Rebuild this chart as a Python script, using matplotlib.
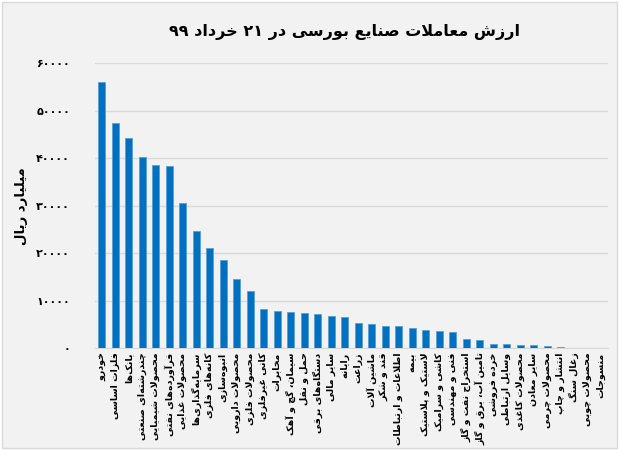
import matplotlib
matplotlib.use("Agg")
import matplotlib.pyplot as plt
from matplotlib.patches import Rectangle

# industries, ordered as in the chart
categories = [
    "خودرو", "فلزات اساسی", "بانک‌ها", "چندرشته‌ای صنعتی", "محصولات شیمیایی",
    "فرآورده‌های نفتی", "محصولات غذایی", "سرمایه‌گذاری‌ها", "کانه‌های فلزی",
    "انبوه‌سازی", "محصولات دارویی", "محصولات فلزی", "کانی غیرفلزی", "مخابرات",
    "سیمان، گچ و آهک", "حمل و نقل", "دستگاه‌های برقی", "سایر مالی", "رایانه",
    "زراعت", "ماشین آلات", "قند و شکر", "اطلاعات و ارتباطات", "بیمه",
    "لاستیک و پلاستیک", "کاشی و سرامیک", "فنی و مهندسی", "استخراج نفت و گاز",
    "تامین آب، برق و گاز", "خرده فروشی", "وسایل ارتباطی", "محصولات کاغذی",
    "سایر معادن", "محصولات چرمی", "انتشار و چاپ", "زغال سنگ", "محصولات چوبی",
    "منسوجات",
]
# trade value, billion rials
values = [
    56000, 47400, 44200, 40200, 38700, 38300, 30700, 24700, 21100, 18700,
    14600, 12100, 8200, 7900, 7650, 7500, 7300, 6870, 6530, 5400,
    5050, 4770, 4700, 4210, 3790, 3700, 3370, 1890, 1750, 900,
    840, 700, 700, 550, 200, 150, 100, 50,
]
yticks = [0, 10000, 20000, 30000, 40000, 50000, 60000]
title = "ارزش معاملات صنایع بورسی در ۲۱ خرداد ۹۹"
ylabel = "میلیارد ریال"

# --- tiny arabic/persian shaper (matplotlib has no text shaping) ---
DUAL = {
    "ب": (0xFE8F, 0xFE90, 0xFE91, 0xFE92), "پ": (0xFB56, 0xFB57, 0xFB58, 0xFB59),
    "ت": (0xFE95, 0xFE96, 0xFE97, 0xFE98), "ث": (0xFE99, 0xFE9A, 0xFE9B, 0xFE9C),
    "ج": (0xFE9D, 0xFE9E, 0xFE9F, 0xFEA0), "چ": (0xFB7A, 0xFB7B, 0xFB7C, 0xFB7D),
    "ح": (0xFEA1, 0xFEA2, 0xFEA3, 0xFEA4), "خ": (0xFEA5, 0xFEA6, 0xFEA7, 0xFEA8),
    "س": (0xFEB1, 0xFEB2, 0xFEB3, 0xFEB4), "ش": (0xFEB5, 0xFEB6, 0xFEB7, 0xFEB8),
    "ص": (0xFEB9, 0xFEBA, 0xFEBB, 0xFEBC), "ض": (0xFEBD, 0xFEBE, 0xFEBF, 0xFEC0),
    "ط": (0xFEC1, 0xFEC2, 0xFEC3, 0xFEC4), "ظ": (0xFEC5, 0xFEC6, 0xFEC7, 0xFEC8),
    "ع": (0xFEC9, 0xFECA, 0xFECB, 0xFECC), "غ": (0xFECD, 0xFECE, 0xFECF, 0xFED0),
    "ف": (0xFED1, 0xFED2, 0xFED3, 0xFED4), "ق": (0xFED5, 0xFED6, 0xFED7, 0xFED8),
    "ک": (0xFB8E, 0xFB8F, 0xFB90, 0xFB91), "گ": (0xFB92, 0xFB93, 0xFB94, 0xFB95),
    "ل": (0xFEDD, 0xFEDE, 0xFEDF, 0xFEE0), "م": (0xFEE1, 0xFEE2, 0xFEE3, 0xFEE4),
    "ن": (0xFEE5, 0xFEE6, 0xFEE7, 0xFEE8), "ه": (0xFEE9, 0xFEEA, 0xFEEB, 0xFEEC),
    "ی": (0xFBFC, 0xFBFD, 0xFBFE, 0xFBFF), "ئ": (0xFE89, 0xFE8A, 0xFE8B, 0xFE8C),
}
RIGHT = {
    "ا": (0xFE8D, 0xFE8E), "آ": (0xFE81, 0xFE82), "د": (0xFEA9, 0xFEAA),
    "ذ": (0xFEAB, 0xFEAC), "ر": (0xFEAD, 0xFEAE), "ز": (0xFEAF, 0xFEB0),
    "ژ": (0xFB8A, 0xFB8B), "و": (0xFEED, 0xFEEE),
}
LAMALEF = {"ا": (0xFEFB, 0xFEFC), "آ": (0xFEF5, 0xFEF6)}
DIGITS = set("۰۱۲۳۴۵۶۷۸۹0123456789")


def fa(s):
    out = []
    i = 0
    n = len(s)
    while i < n:
        c = s[i]
        prev = s[i - 1] if i > 0 else ""
        nxt = s[i + 1] if i + 1 < n else ""
        jp = prev in DUAL
        if c == "ل" and nxt in LAMALEF:
            out.append(chr(LAMALEF[nxt][1 if jp else 0]))
            i += 2
            continue
        if c in DUAL:
            jn = nxt in DUAL or nxt in RIGHT
            f = DUAL[c]
            out.append(chr(f[3] if jp and jn else f[2] if jn else f[1] if jp else f[0]))
        elif c in RIGHT:
            out.append(chr(RIGHT[c][1 if jp else 0]))
        elif c == "\u200c":
            pass
        else:
            out.append(c)
        i += 1
    out = out[::-1]
    # put digit runs back in left-to-right order
    res, run = [], []
    for ch in out:
        if ch in DIGITS:
            run.append(ch)
        else:
            res.extend(run[::-1])
            run = []
            res.append(ch)
    res.extend(run[::-1])
    return "".join(res)


def fa_num(v):
    return str(v).translate(str.maketrans("0123456789", "۰۱۲۳۴۵۶۷۸۹"))


plt.rcParams["font.family"] = ["DejaVu Sans"]

fig = plt.figure(figsize=(6.21, 4.5), dpi=100)
fig.patch.set_facecolor("white")
fig.patches.append(Rectangle((0.004, 0.004), 0.99, 0.992, transform=fig.transFigure,
                             facecolor="#F2F2F2", edgecolor="#D9D9D9", lw=1, zorder=-10))

ax = fig.add_axes([0.153, 0.226, 0.826, 0.633])
ax.set_facecolor("none")
x = range(len(categories))
ax.bar(x, values, width=0.54, color="#0070C0", edgecolor="#5A9FD4", linewidth=0.6, zorder=3)

ax.set_xlim(-0.5, len(categories) - 0.5)
ax.set_ylim(0, 60000)
ax.set_yticks(yticks)
ax.set_yticklabels([fa_num(t) for t in yticks], fontsize=8, fontweight="bold")
ax.set_xticks(list(x))
ax.set_xticklabels([fa(c) for c in categories], rotation=90, fontsize=6.8,
                   fontweight="bold", va="top")
ax.tick_params(axis="both", length=0)
ax.tick_params(axis="y", pad=18)
ax.tick_params(axis="x", pad=3)
ax.grid(axis="y", color="#D9D9D9", lw=1, zorder=0)
for s in ["top", "right", "left"]:
    ax.spines[s].set_visible(False)
ax.spines["bottom"].set_color("#D9D9D9")

ax.set_ylabel(fa(ylabel), fontsize=9.5, fontweight="bold", labelpad=6)
fig.text(0.555, 0.928, fa(title), ha="center", va="center", fontsize=11.5, fontweight="bold")

fig.savefig("out.png", dpi=100)
